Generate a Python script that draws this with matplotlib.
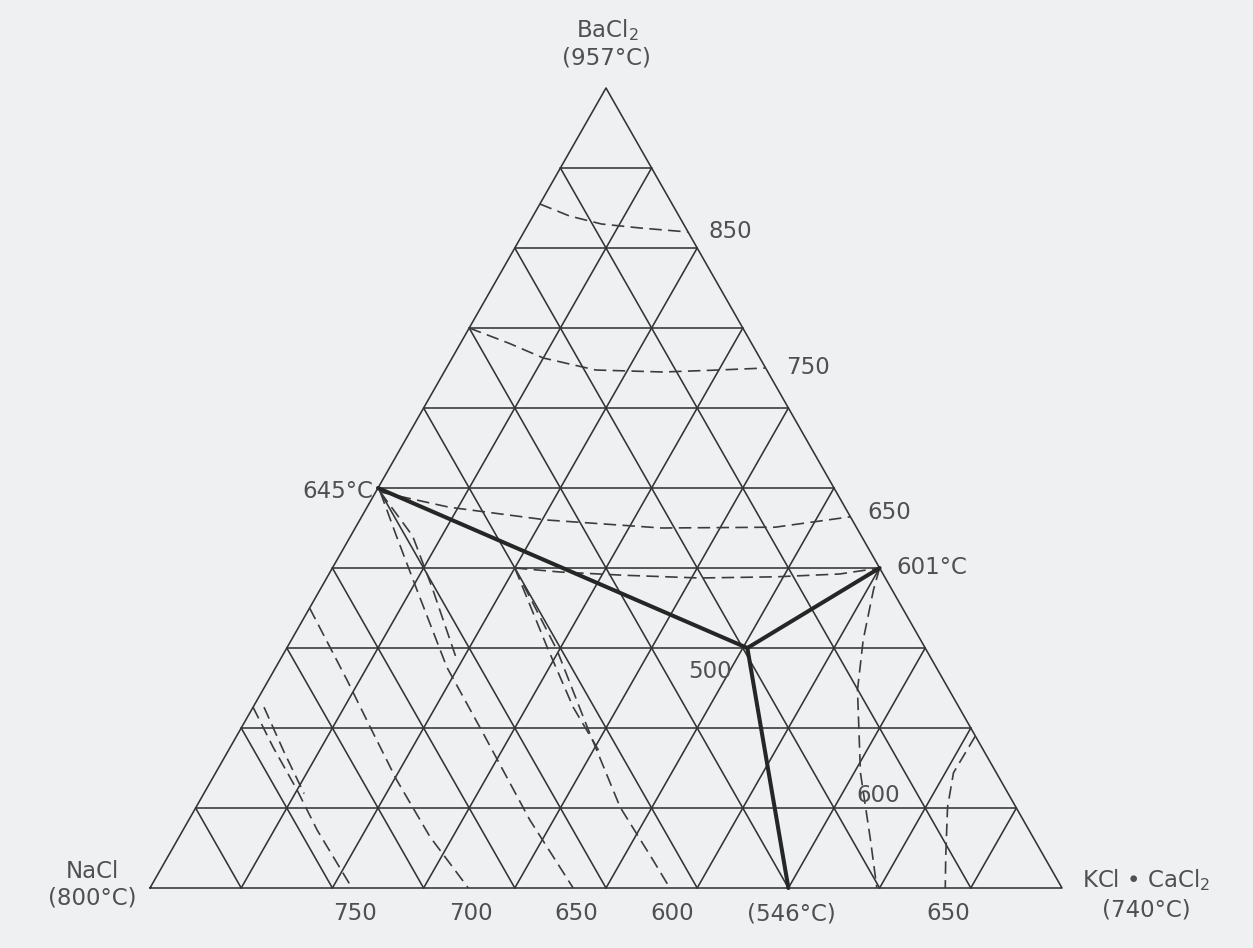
import matplotlib
matplotlib.use('Agg')
import matplotlib.pyplot as plt
import numpy as np

# compositions as fractions: b = KCl.CaCl2, c = BaCl2, NaCl = 1 - b - c
ticks = np.arange(1, 10) / 10

# eutectic points (b, c)
eut_645 = (0.0, 0.50)
eut_601 = (0.60, 0.40)
eut_tern = (0.505, 0.30)
eut_546 = (0.70, 0.0)

# isotherms in the BaCl2 field
iso850_b = [0.0, 0.04, 0.08, 0.125, 0.18]
iso850_c = [0.855, 0.84, 0.83, 0.825, 0.82]
iso750_b = [0.0, 0.053, 0.10, 0.165, 0.24, 0.30, 0.35]
iso750_c = [0.70, 0.681, 0.6625, 0.6475, 0.645, 0.6475, 0.65]
iso650_b = [0.005, 0.09, 0.205, 0.336, 0.46, 0.536]
iso650_c = [0.495, 0.476, 0.46, 0.45, 0.451, 0.464]
iso601_b = [0.20, 0.252, 0.323, 0.409, 0.492, 0.56, 0.60]
iso601_c = [0.40, 0.395, 0.391, 0.3875, 0.389, 0.3925, 0.40]

# isotherms in the NaCl field
na750_b = [0.0, 0.047, 0.10, 0.147, 0.2215]
na750_c = [0.226, 0.176, 0.1225, 0.0725, 0.0]
na750b_b = [0.012, 0.062, 0.11]
na750b_c = [0.226, 0.17, 0.118]
na700_b = [0.0, 0.086, 0.141, 0.203, 0.275, 0.349]
na700_c = [0.35, 0.26, 0.201, 0.135, 0.064, 0.0]
na650_b = [0.005, 0.051, 0.1065, 0.1875, 0.268, 0.374, 0.464]
na650_c = [0.495, 0.439, 0.3725, 0.276, 0.194, 0.085, 0.0]
na650b_b = [0.005, 0.068, 0.122, 0.19]
na650b_c = [0.495, 0.44, 0.375, 0.29]
na600_b = [0.20, 0.2975, 0.379, 0.465, 0.534, 0.570]
na600_c = [0.40, 0.2975, 0.201, 0.101, 0.035, 0.0]
na600b_b = [0.20, 0.285, 0.351, 0.409]
na600b_c = [0.40, 0.301, 0.226, 0.169]

# isotherms in the KCl.CaCl2 field
k600_b = [0.60, 0.607, 0.627, 0.652, 0.707, 0.76, 0.797]
k600_c = [0.40, 0.3725, 0.31, 0.2475, 0.144, 0.06, 0.0]
k650_b = [0.81, 0.809, 0.824, 0.853, 0.872]
k650_c = [0.19, 0.144, 0.101, 0.039, 0.0]


def xy(b, c):
    b = np.asarray(b, dtype=float)
    c = np.asarray(c, dtype=float)
    return b + c / 2, c


fig = plt.figure(figsize=(12.53, 9.48), dpi=100, facecolor='#eef0f1')
ax = fig.add_axes([150 / 1253, 60 / 948, 912 / 1253, 800 / 948])
ax.set_xlim(0, 1)
ax.set_ylim(0, 1)
ax.axis('off')

grid_kw = dict(color='#333333', lw=1.15, clip_on=False, solid_capstyle='round')
# outline
x, y = xy([0, 1, 0, 0], [0, 0, 1, 0])
ax.plot(x, y, **grid_kw)
for t in ticks:
    # constant BaCl2
    x, y = xy([0, 1 - t], [t, t])
    ax.plot(x, y, **grid_kw)
    # constant KCl.CaCl2
    x, y = xy([t, t], [0, 1 - t])
    ax.plot(x, y, **grid_kw)
    # constant NaCl
    x, y = xy([1 - t, 0], [0, 1 - t])
    ax.plot(x, y, **grid_kw)

dash_kw = dict(color='#3c3c3c', lw=1.2, ls=(0, (7.5, 3.8)), clip_on=False)
for bb, cc in [(iso850_b, iso850_c), (iso750_b, iso750_c), (iso650_b, iso650_c),
               (iso601_b, iso601_c), (na750_b, na750_c), (na750b_b, na750b_c),
               (na700_b, na700_c), (na650_b, na650_c), (na650b_b, na650b_c),
               (na600_b, na600_c), (na600b_b, na600b_c), (k600_b, k600_c),
               (k650_b, k650_c)]:
    x, y = xy(bb, cc)
    ax.plot(x, y, **dash_kw)

thick_kw = dict(color='#262626', lw=2.9, solid_capstyle='round', clip_on=False)
for p in [eut_645, eut_601, eut_546]:
    x, y = xy([p[0], eut_tern[0]], [p[1], eut_tern[1]])
    ax.plot(x, y, **thick_kw)

txt = dict(color='#505050', fontsize=16.5, family='DejaVu Sans')
ax.text(0.501, 1.073, 'BaCl$_2$', ha='center', va='center', **txt)
ax.text(0.501, 1.037, '(957°C)', ha='center', va='center', **txt)
ax.text(-0.063, 0.02, 'NaCl', ha='center', va='center', **txt)
ax.text(-0.063, -0.013, '(800°C)', ha='center', va='center', **txt)
ax.text(1.092, 0.01, 'KCl • CaCl$_2$', ha='center', va='center', **txt)
ax.text(1.092, -0.027, '(740°C)', ha='center', va='center', **txt)

ax.text(0.636, 0.82, '850', ha='center', va='center', **txt)
ax.text(0.7215, 0.65, '750', ha='center', va='center', **txt)
ax.text(0.245, 0.496, '645°C', ha='right', va='center', **txt)
ax.text(0.811, 0.469, '650', ha='center', va='center', **txt)
ax.text(0.818, 0.401, '601°C', ha='left', va='center', **txt)
ax.text(0.614, 0.271, '500', ha='center', va='center', **txt)
ax.text(0.798, 0.116, '600', ha='center', va='center', **txt)

base_labels = ['750', '700', '650', '600', '(546°C)', '650']
base_pos = [na750_b[-1], na700_b[-1], na650_b[-1], na600_b[-1], eut_546[0], k650_b[-1]]
for lab, bpos in zip(base_labels, base_pos):
    ax.text(bpos + 0.003, -0.032, lab, ha='center', va='center', **txt)

fig.savefig('out.png', dpi=100, facecolor=fig.get_facecolor())
